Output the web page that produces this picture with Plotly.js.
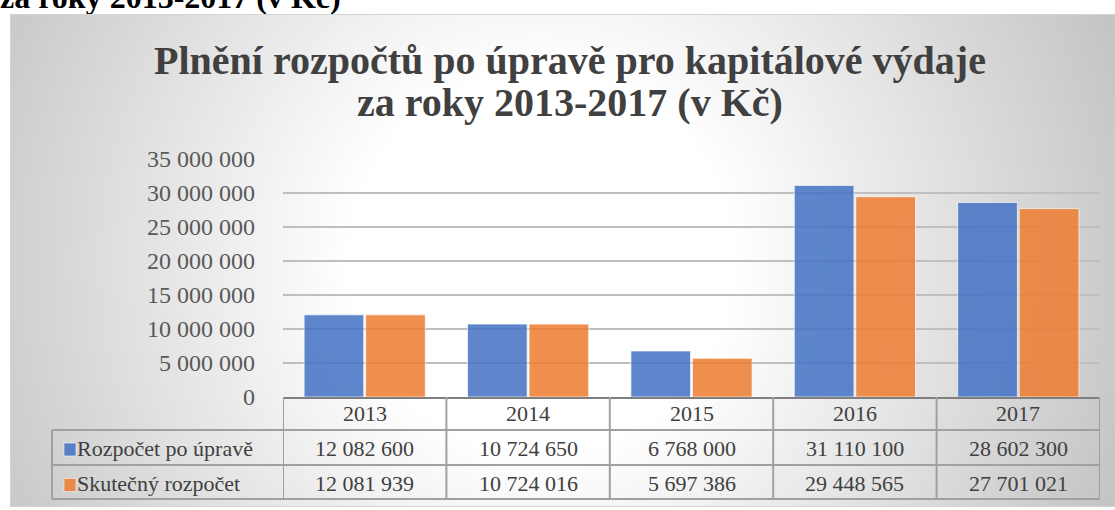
<!DOCTYPE html>
<html>
<head>
<meta charset="utf-8">
<script src="https://cdn.plot.ly/plotly-3.0.1.min.js"></script>
<style>
  html, body { margin:0; padding:0; width:1115px; height:510px; overflow:hidden; background:#ffffff; }
  #heading { position:absolute; left:0px; top:-18px; font-family:"Liberation Serif","Times New Roman",serif; font-weight:bold; font-size:32px; line-height:31px; color:#000; white-space:nowrap; }
  #frame { position:absolute; left:10px; top:14px; width:1120px; height:493px; box-sizing:border-box; border:1px solid #d4d4d4;
           background: radial-gradient(circle at 530px 246px, #ffffff 0px, #ffffff 190px, #c4c4c4 620px); }
  #chart { position:absolute; left:0; top:0; width:1115px; height:510px; }
</style>
</head>
<body>
<div id="heading">za roky 2013-2017 (v Kč)</div>
<div id="frame"></div>
<div id="chart"></div>
<script>
// ---- data ----
const years = ['2013', '2014', '2015', '2016', '2017'];
const rozpocetPoUprave = [12082600, 10724650, 6768000, 31110100, 28602300];
const skutecnyRozpocet = [12081939, 10724016, 5697386, 29448565, 27701021];
const seriesNames = ['Rozpočet po úpravě', 'Skutečný rozpočet'];
const titleLines = ['Plnění rozpočtů po úpravě pro kapitálové výdaje', 'za roky 2013-2017 (v Kč)'];

// ---- layout helpers ----
const L = 283, R = 1100, T = 159, B = 397;
const py = p => (B - p) / (B - T);
const px = p => (p - L) / (R - L);
const fmt = n => String(n).replace(/\B(?=(\d{3})+(?!\d))/g, ' ');

const blue = '#4472c4', orange = '#ed7d31';
const serifFam = "'Liberation Serif', serif";
const textCol = '#404040';
const lineCol = '#a0a0a0';

const traces = [
  { type:'bar', x: years, y: rozpocetPoUprave, name: seriesNames[0],
    marker:{ color: blue, opacity: 0.85, line:{ color:'rgba(255,255,255,0.7)', width:1 } }, hoverinfo:'y' },
  { type:'bar', x: years, y: skutecnyRozpocet, name: seriesNames[1],
    marker:{ color: orange, opacity: 0.85, line:{ color:'rgba(255,255,255,0.7)', width:1 } }, hoverinfo:'y' }
];

const shapes = [];
const annotations = [];

// table horizontal lines
[430, 465, 499].forEach(p => shapes.push({ type:'line', xref:'paper', yref:'paper', x0:px(52), x1:px(R), y0:py(p), y1:py(p), line:{color:lineCol, width:2} }));
// left border of legend column
shapes.push({ type:'line', xref:'paper', yref:'paper', x0:px(52), x1:px(52), y0:py(430), y1:py(499), line:{color:lineCol, width:2} });
// column separators at category boundaries
for (let i = 0; i <= years.length; i++) {
  shapes.push({ type:'line', xref:'x', yref:'paper', x0:i - 0.5, x1:i - 0.5, y0:py(B), y1:py(499), line:{color:lineCol, width:2} });
}
// legend keys
[[449.5, blue], [485, orange]].forEach(([c, col]) => shapes.push({ type:'rect', xref:'paper', yref:'paper', x0:px(64), x1:px(76), y0:py(c - 6.5), y1:py(c + 6.5), fillcolor:col, opacity:0.85, line:{color:'rgba(255,255,255,0.6)', width:1} }));

const f22 = { family:serifFam, size:22, color:textCol };
// table header + values
years.forEach((yr, i) => {
  annotations.push({ xref:'x', yref:'paper', x:i, y:py(413), text:yr, showarrow:false, xanchor:'center', yanchor:'middle', font:f22 });
  annotations.push({ xref:'x', yref:'paper', x:i, y:py(448), text:fmt(rozpocetPoUprave[i]), showarrow:false, xanchor:'center', yanchor:'middle', font:f22 });
  annotations.push({ xref:'x', yref:'paper', x:i, y:py(483), text:fmt(skutecnyRozpocet[i]), showarrow:false, xanchor:'center', yanchor:'middle', font:f22 });
});
// legend labels
annotations.push({ xref:'paper', yref:'paper', x:px(75), y:py(448), text:seriesNames[0], showarrow:false, xanchor:'left', yanchor:'middle', font:f22 });
annotations.push({ xref:'paper', yref:'paper', x:px(75), y:py(483), text:seriesNames[1], showarrow:false, xanchor:'left', yanchor:'middle', font:f22 });
// title
annotations.push({ xref:'paper', yref:'paper', x:px(570), y:py(61), text:'<b>' + titleLines[0] + '</b>', showarrow:false, xanchor:'center', yanchor:'middle', font:{family:serifFam, size:40, color:textCol} });
annotations.push({ xref:'paper', yref:'paper', x:px(570), y:py(103), text:'<b>' + titleLines[1] + '</b>', showarrow:false, xanchor:'center', yanchor:'middle', font:{family:serifFam, size:40, color:textCol} });

const layout = {
  width:1115, height:510,
  margin:{ l:L, r:1115 - R, t:T, b:510 - B, pad:0 },
  paper_bgcolor:'rgba(0,0,0,0)', plot_bgcolor:'rgba(0,0,0,0)',
  font:{ family:serifFam, color:textCol },
  separators:', ',
  showlegend:false,
  barmode:'group', bargap:0.247, bargroupgap:0.03,
  xaxis:{ type:'category', range:[-0.5, years.length - 0.5], showticklabels:false, ticks:'', showgrid:false, zeroline:false,
          showline:true, linecolor:'#7f7f7f', linewidth:2, fixedrange:true },
  yaxis:{ range:[0, 35000000], dtick:5000000, tick0:0, tickformat:',d', showgrid:true, gridcolor:'#bfbfbf', gridwidth:1.5,
          zeroline:false, showline:false, ticks:'', ticklabelstandoff:27,
          tickfont:{ family:serifFam, size:24, color:'#595959' }, fixedrange:true },
  shapes: shapes,
  annotations: annotations
};

Plotly.newPlot('chart', traces, layout, { displayModeBar:false, staticPlot:true });
</script>
</body>
</html>
